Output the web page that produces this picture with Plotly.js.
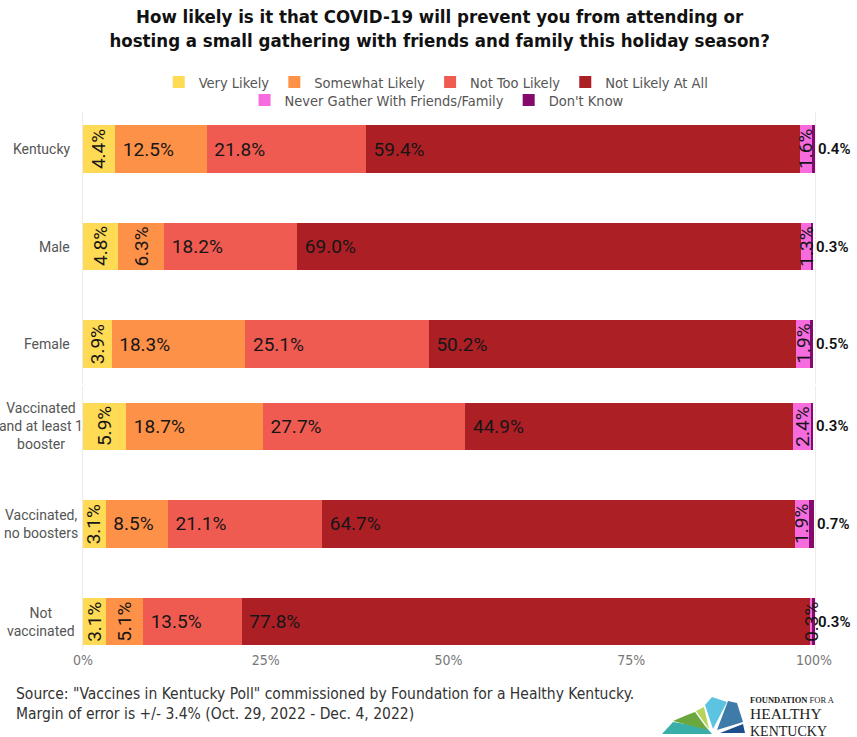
<!DOCTYPE html>
<html><head><meta charset="utf-8">
<script src="https://cdn.plot.ly/plotly-3.0.1.min.js"></script>
<style>html,body{margin:0;padding:0;background:#fff}#chart{width:857px;height:737px}</style>
</head><body><div id="chart"></div>
<script>
// ---- data ----
const groups = ['Kentucky', 'Male', 'Female', 'Vaccinated and at least 1 booster', 'Vaccinated, no boosters', 'Not vaccinated'];
const groupLabels = ['Kentucky', 'Male', 'Female', 'Vaccinated<br>and at least 1<br>booster', 'Vaccinated,<br>no boosters', 'Not<br>vaccinated'];
const seriesNames = ['Very Likely', 'Somewhat Likely', 'Not Too Likely', 'Not Likely At All', 'Never Gather With Friends/Family', "Don't Know"];
const veryLikely     = [4.4, 4.8, 3.9, 5.9, 3.1, 3.1];
const somewhatLikely = [12.5, 6.3, 18.3, 18.7, 8.5, 5.1];
const notTooLikely   = [21.8, 18.2, 25.1, 27.7, 21.1, 13.5];
const notLikelyAtAll = [59.4, 69.0, 50.2, 44.9, 64.7, 77.8];
const neverGather    = [1.6, 1.3, 1.9, 2.4, 1.9, 0.3];
const dontKnow       = [0.4, 0.3, 0.5, 0.3, 0.7, 0.3];
const tickValues = [0, 25, 50, 75, 100];
const tickLabels = ['0%', '25%', '50%', '75%', '100%'];

// ---- style ----
const seriesColors = ['#FFDA55', '#FE9148', '#F05B51', '#AC1F25', '#F66BDD', '#850A6B'];
const NARROW = '"Liberation Sans Narrow", "DejaVu Sans Condensed", "Roboto", sans-serif';
const LABEL = 'Roboto, Inter, sans-serif';
const allSeries = [veryLikely, somewhatLikely, notTooLikely, notLikelyAtAll, neverGather, dontKnow];
const halves = [{idx: [0, 1, 2], yaxis: 'y2', yref: 'y2'}, {idx: [3, 4, 5], yaxis: 'y', yref: 'y'}];

const traces = [];
const annotations = [];
const base = groups.map(() => 0);
const fmt = v => v.toFixed(1) + '%';

allSeries.forEach((vals, s) => {
  const isLast = s === allSeries.length - 1;
  halves.forEach((h, hi) => {
    const tr = {
      type: 'bar', orientation: 'h',
      name: seriesNames[s], legendgroup: seriesNames[s],
      legend: s < 4 ? 'legend' : 'legend2',
      showlegend: hi === 0,
      xaxis: 'x', yaxis: h.yaxis,
      y: h.idx.map(i => groups[i]),
      x: h.idx.map(i => vals[i]),
      marker: {color: seriesColors[s], line: {width: 0}},
      hoverinfo: 'none', cliponaxis: false, constraintext: 'none',
      textangle: 0
    };
    if (isLast) {
      tr.textposition = 'none';
      h.idx.forEach(i => {
        annotations.push({
          xref: 'x', yref: h.yref, x: base[i] + vals[i], y: groups[i], xanchor: 'left', xshift: 1,
          text: fmt(vals[i]), showarrow: false,
          font: {family: LABEL, size: 15, color: '#111', weight: 600}
        });
      });
    } else {
      tr.text = h.idx.map(i => vals[i] >= 7 ? '\u00a0' + fmt(vals[i]) : '');
      tr.textposition = 'inside';
      tr.insidetextanchor = 'start';
      tr.insidetextfont = {family: LABEL, size: 19, color: '#161616'};
      h.idx.forEach(i => {
        if (vals[i] < 7) {
          annotations.push({
            xref: 'x', yref: h.yref, x: base[i] + vals[i] / 2, y: groups[i],
            text: fmt(vals[i]), textangle: -90, showarrow: false,
            font: {family: LABEL, size: 19, color: '#161616'}
          });
        }
      });
    }
    traces.push(tr);
  });
  vals.forEach((v, i) => { base[i] += v; });
});

// category labels
groups.forEach((g, i) => {
  const top = i < 3;
  annotations.push({
    xref: 'paper', yref: top ? 'y2' : 'y', y: g,
    x: top ? -0.015 : -0.0574, xanchor: top ? 'right' : 'center', align: top ? 'right' : 'center',
    text: groupLabels[i], showarrow: false,
    font: {family: 'Roboto, sans-serif', size: 14, color: '#555'}
  });
});

// paper helpers for footer / logo (plot area: x 83..815, y 110..650)
const px = x => (x - 83) / 732;
const py = y => (650 - y) / 540;

annotations.push({
  xref: 'paper', yref: 'paper', x: px(14), y: py(704), xanchor: 'left', yanchor: 'middle', align: 'left',
  text: 'Source: "Vaccines in Kentucky Poll" commissioned by Foundation for a Healthy Kentucky.<br>Margin of error is +/- 3.4% (Oct. 29, 2022 - Dec. 4, 2022)',
  showarrow: false, font: {family: NARROW, size: 15.5, color: '#333'}
});
annotations.push({xref: 'paper', yref: 'paper', x: px(748), y: py(717), xanchor: 'left', yanchor: 'middle', align: 'left',
  text: '<span style="font-size:8.5px"><b>FOUNDATION</b> FOR A</span><br><span style="font-size:15.5px">HEALTHY</span><br><span style="font-size:14px">KENTUCKY</span>',
  showarrow: false, font: {family: '"Liberation Serif", serif', size: 12.5, color: '#222'}});

const logoPieces = [
  {c: '#3AAFA9', p: [[662, 734], [673, 722], [706, 727], [712, 734]]},
  {c: '#6AA83E', p: [[673, 721], [687, 715], [695, 712], [708, 730]]},
  {c: '#B7D35C', p: [[696, 711], [704, 707], [709, 729]]},
  {c: '#5CC3E0', p: [[705, 705], [712, 697], [727, 702], [713, 729]]},
  {c: '#3F7BA8', p: [[728, 701], [737, 703], [743, 722], [717, 730]]},
  {c: '#1F4E8C', p: [[720, 733], [743, 724], [745, 733]]}
];
const shapes = logoPieces.map(pc => ({
  type: 'path', xref: 'paper', yref: 'paper', fillcolor: pc.c, line: {width: 0},
  path: 'M' + pc.p.map(q => px(q[0]).toFixed(5) + ',' + py(q[1]).toFixed(5)).join('L') + 'Z'
}));

const layout = {
  width: 857, height: 737,
  margin: {l: 83, r: 42, t: 110, b: 87, autoexpand: false},
  paper_bgcolor: '#fff', plot_bgcolor: '#fff',
  barmode: 'stack', bargap: 0.508,
  title: {
    text: '<b>How likely is it that COVID-19 will prevent you from attending or<br>hosting a small gathering with friends and family this holiday season?</b>',
    x: 0.513, xref: 'container', xanchor: 'center', y: 1 - 23 / 737, yref: 'container', yanchor: 'top',
    font: {family: NARROW, size: 18.5, color: '#111'}
  },
  xaxis: {
    anchor: 'y', range: [0, 100.15], tickvals: tickValues, ticktext: tickLabels,
    showgrid: false, zeroline: false, showline: false, ticks: '',
    tickfont: {family: NARROW, size: 14, color: '#777'}, fixedrange: true
  },
  yaxis: {
    domain: [0, 0.4889], range: [2.2923, -0.4154], type: 'category',
    categoryorder: 'array', categoryarray: groups.slice(3),
    showticklabels: false, showgrid: false, zeroline: false,
    showline: true, mirror: true, linecolor: '#ececec', linewidth: 1, anchor: 'x', fixedrange: true
  },
  yaxis2: {
    domain: [0.4926, 0.9963], range: [2.410, -0.3795], type: 'category',
    categoryorder: 'array', categoryarray: groups.slice(0, 3),
    showticklabels: false, showgrid: false, zeroline: false,
    showline: true, mirror: true, linecolor: '#ececec', linewidth: 1, anchor: 'x', fixedrange: true
  },
  legend: {
    orientation: 'h', xref: 'container', yref: 'container', x: 0.509, xanchor: 'center',
    y: 1 - 82 / 737, yanchor: 'middle', traceorder: 'normal', bgcolor: 'rgba(0,0,0,0)',
    font: {family: NARROW, size: 14.5, color: '#555'}, itemclick: false, itemdoubleclick: false
  },
  legend2: {
    orientation: 'h', xref: 'container', yref: 'container', x: 0.51, xanchor: 'center',
    y: 1 - 100 / 737, yanchor: 'middle', traceorder: 'normal', bgcolor: 'rgba(0,0,0,0)',
    font: {family: NARROW, size: 14.5, color: '#555'}, itemclick: false, itemdoubleclick: false
  },
  annotations: annotations,
  shapes: shapes,
  showlegend: true
};

Plotly.newPlot('chart', traces, layout, {displayModeBar: false, staticPlot: true});
</script>
</body></html>
